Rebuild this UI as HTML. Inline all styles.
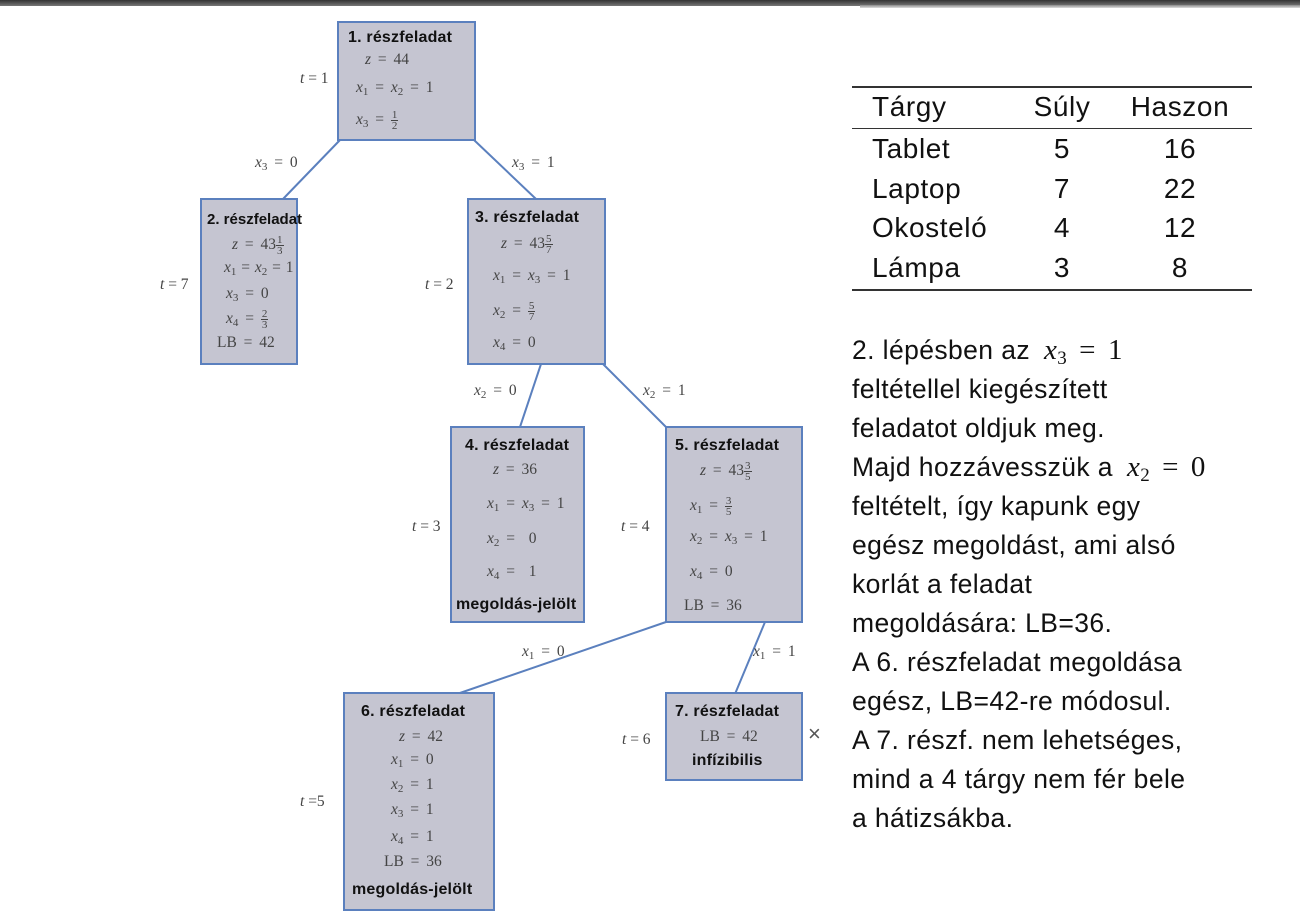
<!DOCTYPE html>
<html><head><meta charset="utf-8"><style>
body{margin:0;width:1300px;height:924px;background:#fff;position:relative;overflow:hidden;font-family:"Liberation Serif",serif}
.bar{position:absolute;left:0;top:0;width:1300px;height:6px;background:linear-gradient(#333,#777)}
.bar2{position:absolute;left:860px;top:5px;width:440px;height:3px;background:linear-gradient(#888,#ddd)}
.box{position:absolute;background:#c5c5d1;border:2px solid #5b80be;box-sizing:border-box}
.t{position:absolute;font-size:15.5px;line-height:18px;color:#444;white-space:nowrap;font-style:normal;word-spacing:3px}
.l{word-spacing:0}
.h{position:absolute;font-family:"Liberation Sans",sans-serif;font-weight:bold;font-size:16px;line-height:18px;color:#111;white-space:nowrap;letter-spacing:0.2px}
i{font-style:italic}
sub{font-size:11px;vertical-align:-3px;line-height:0}
.fr{display:inline-block;vertical-align:middle;font-size:11px;line-height:10px;text-align:center;word-spacing:0}
.fr span{display:block;padding:0 1px}
.fr span:first-child{border-bottom:1px solid #444}
.r{position:absolute;font-family:"Liberation Sans",sans-serif;font-size:28px;color:#111;white-space:nowrap;line-height:30px;letter-spacing:0.6px}
.c{text-align:center;width:100px}
.p{position:absolute;left:852px;font-family:"Liberation Sans",sans-serif;font-size:26.5px;color:#111;white-space:nowrap;line-height:30px;letter-spacing:0.4px}
.m{font-family:"Liberation Serif",serif;font-style:italic;font-size:29px;margin-left:14px}
.m sub{font-size:19px;font-style:normal;vertical-align:-5px}
.eq{font-family:"Liberation Serif",serif;font-size:29px;margin:0 12px}
.hl{position:absolute;left:852px;width:400px;background:#333}
</style></head><body>
<div class="bar"></div><div class="bar2"></div>
<svg width="1300" height="924" style="position:absolute;left:0;top:0">
<g stroke="#5b80be" stroke-width="2">
<line x1="340" y1="140" x2="283" y2="199"/>
<line x1="474" y1="140" x2="536" y2="199"/>
<line x1="541" y1="364" x2="520" y2="427"/>
<line x1="603" y1="364" x2="666" y2="427"/>
<line x1="666" y1="622" x2="457" y2="694"/>
<line x1="765" y1="622" x2="735" y2="694"/>
</g></svg>
<div class="box" style="left:337px;top:21px;width:139px;height:120px"></div>
<div class="box" style="left:200px;top:198px;width:98px;height:167px"></div>
<div class="box" style="left:467px;top:198px;width:139px;height:167px"></div>
<div class="box" style="left:450px;top:426px;width:135px;height:197px"></div>
<div class="box" style="left:665px;top:426px;width:138px;height:197px"></div>
<div class="box" style="left:343px;top:692px;width:152px;height:219px"></div>
<div class="box" style="left:665px;top:692px;width:138px;height:89px"></div>

<div class="h" style="left:348px;top:29px">1. részfeladat</div>
<div class="t" style="left:365px;top:51px"><i>z</i> = 44</div>
<div class="t" style="left:356px;top:79px"><i>x</i><sub>1</sub> = <i>x</i><sub>2</sub> = 1</div>
<div class="t" style="left:356px;top:110px"><i>x</i><sub>3</sub> = <span class="fr"><span>1</span><span>2</span></span></div>

<div class="h" style="left:207px;top:211px;font-size:15px;letter-spacing:0">2. részfeladat</div>
<div class="t" style="left:232px;top:235px"><i>z</i> = 43<span class="fr"><span>1</span><span>3</span></span></div>
<div class="t" style="left:224px;top:259px;word-spacing:1px"><i>x</i><sub>1</sub> = <i>x</i><sub>2</sub> = 1</div>
<div class="t" style="left:226px;top:285px"><i>x</i><sub>3</sub> = 0</div>
<div class="t" style="left:226px;top:309px"><i>x</i><sub>4</sub> = <span class="fr"><span>2</span><span>3</span></span></div>
<div class="t" style="left:217px;top:334px">LB = 42</div>

<div class="h" style="left:475px;top:209px">3. részfeladat</div>
<div class="t" style="left:501px;top:234px"><i>z</i> = 43<span class="fr"><span>5</span><span>7</span></span></div>
<div class="t" style="left:493px;top:267px"><i>x</i><sub>1</sub> = <i>x</i><sub>3</sub> = 1</div>
<div class="t" style="left:493px;top:301px"><i>x</i><sub>2</sub> = <span class="fr"><span>5</span><span>7</span></span></div>
<div class="t" style="left:493px;top:334px"><i>x</i><sub>4</sub> = 0</div>

<div class="h" style="left:465px;top:437px">4. részfeladat</div>
<div class="t" style="left:493px;top:461px"><i>z</i> = 36</div>
<div class="t" style="left:487px;top:495px"><i>x</i><sub>1</sub> = <i>x</i><sub>3</sub> = 1</div>
<div class="t" style="left:487px;top:530px"><i>x</i><sub>2</sub> = &nbsp;0</div>
<div class="t" style="left:487px;top:563px"><i>x</i><sub>4</sub> = &nbsp;1</div>
<div class="h" style="left:456px;top:596px">megoldás-jelölt</div>

<div class="h" style="left:675px;top:437px">5. részfeladat</div>
<div class="t" style="left:700px;top:461px"><i>z</i> = 43<span class="fr"><span>3</span><span>5</span></span></div>
<div class="t" style="left:690px;top:496px"><i>x</i><sub>1</sub> = <span class="fr"><span>3</span><span>5</span></span></div>
<div class="t" style="left:690px;top:528px"><i>x</i><sub>2</sub> = <i>x</i><sub>3</sub> = 1</div>
<div class="t" style="left:690px;top:563px"><i>x</i><sub>4</sub> = 0</div>
<div class="t" style="left:684px;top:597px">LB = 36</div>

<div class="h" style="left:361px;top:703px">6. részfeladat</div>
<div class="t" style="left:399px;top:728px"><i>z</i> = 42</div>
<div class="t" style="left:391px;top:751px"><i>x</i><sub>1</sub> = 0</div>
<div class="t" style="left:391px;top:776px"><i>x</i><sub>2</sub> = 1</div>
<div class="t" style="left:391px;top:801px"><i>x</i><sub>3</sub> = 1</div>
<div class="t" style="left:391px;top:828px"><i>x</i><sub>4</sub> = 1</div>
<div class="t" style="left:384px;top:853px">LB = 36</div>
<div class="h" style="left:352px;top:881px">megoldás-jelölt</div>

<div class="h" style="left:675px;top:703px">7. részfeladat</div>
<div class="t" style="left:700px;top:728px">LB = 42</div>
<div class="h" style="left:692px;top:752px">infízibilis</div>
<div class="t" style="left:808px;top:725px;font-family:'Liberation Sans',sans-serif;font-size:22px;color:#555">×</div>

<div class="t l" style="left:300px;top:70px"><i>t</i> = 1</div>
<div class="t" style="left:255px;top:154px"><i>x</i><sub>3</sub> = 0</div>
<div class="t" style="left:512px;top:154px"><i>x</i><sub>3</sub> = 1</div>
<div class="t l" style="left:160px;top:276px"><i>t</i> = 7</div>
<div class="t l" style="left:425px;top:276px"><i>t</i> = 2</div>
<div class="t" style="left:474px;top:382px"><i>x</i><sub>2</sub> = 0</div>
<div class="t" style="left:643px;top:382px"><i>x</i><sub>2</sub> = 1</div>
<div class="t l" style="left:412px;top:518px"><i>t</i> = 3</div>
<div class="t l" style="left:621px;top:518px"><i>t</i> = 4</div>
<div class="t" style="left:522px;top:643px"><i>x</i><sub>1</sub> = 0</div>
<div class="t" style="left:753px;top:643px"><i>x</i><sub>1</sub> = 1</div>
<div class="t l" style="left:300px;top:793px"><i>t</i> =5</div>
<div class="t l" style="left:622px;top:731px"><i>t</i> = 6</div>

<div class="hl" style="top:86px;height:2px"></div>
<div class="hl" style="top:128px;height:1px"></div>
<div class="hl" style="top:289px;height:2px"></div>
<div class="r" style="left:872px;top:92px">Tárgy</div>
<div class="r c" style="left:1012px;top:92px">Súly</div>
<div class="r c" style="left:1130px;top:92px">Haszon</div>
<div class="r" style="left:872px;top:134px">Tablet</div>
<div class="r" style="left:872px;top:174px">Laptop</div>
<div class="r" style="left:872px;top:213px">Okosteló</div>
<div class="r" style="left:872px;top:253px">Lámpa</div>
<div class="r c" style="left:1012px;top:134px">5</div>
<div class="r c" style="left:1012px;top:174px">7</div>
<div class="r c" style="left:1012px;top:213px">4</div>
<div class="r c" style="left:1012px;top:253px">3</div>
<div class="r c" style="left:1130px;top:134px">16</div>
<div class="r c" style="left:1130px;top:174px">22</div>
<div class="r c" style="left:1130px;top:213px">12</div>
<div class="r c" style="left:1130px;top:253px">8</div>

<div class="p" style="top:335px">2. lépésben az<span class="m">x<sub>3</sub></span><span class="eq">=</span><span class="eq" style="margin:0">1</span></div>
<div class="p" style="top:374px">feltétellel kiegészített</div>
<div class="p" style="top:413px">feladatot oldjuk meg.</div>
<div class="p" style="top:452px">Majd hozzávesszük a<span class="m">x<sub>2</sub></span><span class="eq">=</span><span class="eq" style="margin:0">0</span></div>
<div class="p" style="top:491px">feltételt, így kapunk egy</div>
<div class="p" style="top:530px">egész megoldást, ami alsó</div>
<div class="p" style="top:569px">korlát a feladat</div>
<div class="p" style="top:608px">megoldására: LB=36.</div>
<div class="p" style="top:647px">A 6. részfeladat megoldása</div>
<div class="p" style="top:686px">egész, LB=42-re módosul.</div>
<div class="p" style="top:725px">A 7. részf. nem lehetséges,</div>
<div class="p" style="top:764px">mind a 4 tárgy nem fér bele</div>
<div class="p" style="top:803px">a hátizsákba.</div>
</body></html>
